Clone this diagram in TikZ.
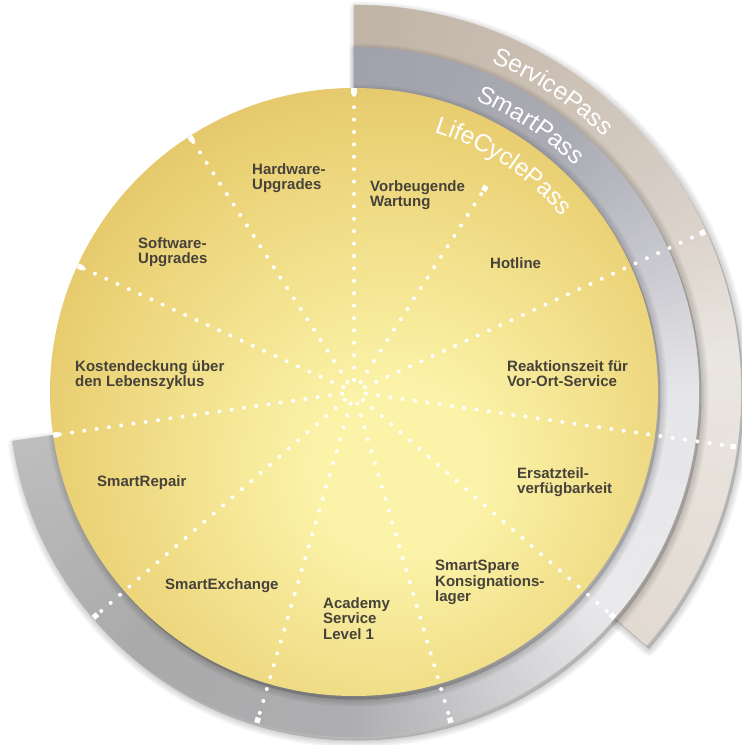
\documentclass[tikz,border=0pt]{standalone}
\usepackage{fontspec}
\setmainfont{Liberation Sans}
\usetikzlibrary{decorations.text}

\definecolor{labelc}{RGB}{70,66,58}
\definecolor{goldA}{RGB}{251,243,168}
\definecolor{goldB}{RGB}{234,208,116}
\definecolor{goldC}{RGB}{196,154,56}
% gray ring stops
\definecolor{gA}{RGB}{160,161,170}
\definecolor{gB}{RGB}{170,171,179}
\definecolor{gC}{RGB}{204,204,210}
\definecolor{gD}{RGB}{230,230,234}
\definecolor{gE}{RGB}{234,234,236}
\definecolor{gF}{RGB}{206,206,208}
\definecolor{gG}{RGB}{174,174,176}
\definecolor{gH}{RGB}{170,170,171}
\definecolor{gI}{RGB}{190,190,190}
% beige ring stops
\definecolor{bA}{RGB}{192,180,167}
\definecolor{bB}{RGB}{203,191,179}
\definecolor{bC}{RGB}{216,207,198}
\definecolor{bD}{RGB}{234,230,225}
\definecolor{bE}{RGB}{226,218,209}

\pgfdeclareradialshading{goldshade}{\pgfpoint{4bp}{-7bp}}{color(0bp)=(goldA); color(7bp)=(goldA); color(27bp)=(goldB); color(52bp)=(goldC); color(90bp)=(goldC)}

% ring segment with colour gradient: start angle, end angle, colour start, colour end, inner r, outer r
\newcommand{\ringgrad}[6]{%
  \pgfmathtruncatemacro{\rgN}{max(2,abs(#2-#1)/1.5)}%
  \foreach \rgi in {1,...,\rgN}{%
    \pgfmathsetmacro{\rgA}{#1+(#2-#1)*(\rgi-1)/\rgN}%
    \pgfmathsetmacro{\rgB}{#1+(#2-#1)*\rgi/\rgN}%
    \pgfmathsetmacro{\rgP}{100*(\rgi-0.5)/\rgN}%
    \filldraw[color=#4!\rgP!#3, line width=0.4pt, line join=round]
      (\rgA:#5) arc[start angle=\rgA, end angle=\rgB, radius=#5]
      -- (\rgB:#6) arc[start angle=\rgB, end angle=\rgA, radius=#6] -- cycle;
  }}

\newcommand{\softshadow}[1]{%
  \foreach \w in {2,5,8,11,14}{%
    \filldraw[black, opacity=0.035, line width=\w pt, line join=round, shift={(2.5,-3.5)}] #1;
  }}

\newcommand{\arcfont}{\color{white}\fontsize{24.5}{28}\selectfont}

\tikzset{
  lab/.style={anchor=north west, inner sep=0pt, align=left, text=labelc,
    font=\bfseries\fontsize{15}{15.5}\selectfont},
  spoke/.style={white, line width=4pt, line cap=round,
    dash pattern=on 0pt off 12.4pt},
  endsq/.style={fill=white, inner sep=0pt, minimum size=5.4pt, draw=none}
}

\begin{document}
\begin{tikzpicture}[x=1pt,y=1pt]
\useasboundingbox (-354,-353) rectangle (388,392);
\fill[white] (-354,-353) rectangle (388,392);

% ServicePass ring (beige)
\softshadow{(0,0) -- (90:387) arc[start angle=90, end angle=-40.91, radius=387] -- cycle}
\ringgrad{90}{60}{bA}{bB}{338}{387}
\ringgrad{60}{30}{bB}{bC}{338}{387}
\ringgrad{30}{5}{bC}{bD}{338}{387}
\ringgrad{5}{-40.91}{bD}{bE}{338}{387}

% SmartPass ring (grey)
\softshadow{(0,0) -- (90:345) arc[start angle=90, end angle=-171.82, radius=345] -- cycle}
\ringgrad{90}{50}{gA}{gB}{298}{345}
\ringgrad{50}{20}{gB}{gC}{298}{345}
\ringgrad{20}{0}{gC}{gD}{298}{345}
\ringgrad{0}{-40}{gD}{gE}{298}{345}
\ringgrad{-40}{-65}{gE}{gF}{298}{345}
\ringgrad{-65}{-90}{gF}{gG}{298}{345}
\ringgrad{-90}{-130}{gG}{gH}{298}{345}
\ringgrad{-130}{-171.82}{gH}{gI}{298}{345}

% shadow of the gold disc on the grey ring
\begin{scope}
  \clip (0,0) -- (90:345) arc[start angle=90, end angle=-171.82, radius=345] -- cycle;
  \softshadow{(0,0) circle[radius=304]}
\end{scope}

% LifeCyclePass disc (gold)
\shade[shading=goldshade] (0,0) circle[radius=304];

% curved ring titles
\path[decorate, decoration={text along path, text align=center,
  text={|\arcfont|ServicePass}}]
  (96.5:357) arc[start angle=96.5, end angle=16.5, radius=357];
\path[decorate, decoration={text along path, text align=center,
  text={|\arcfont|SmartPass}}]
  (96.5:316) arc[start angle=96.5, end angle=16.5, radius=316];
\path[decorate, decoration={text along path, text align=center,
  text={|\arcfont|LifeCyclePass}}]
  (96.5:272) arc[start angle=96.5, end angle=16.5, radius=272];

% dotted spokes
\foreach \ang/\rend [count=\k] in {90/304, 57.27/245, 24.55/386, -8.18/386,
    -40.91/345, -73.64/345, -106.36/345, -139.09/345, -171.82/304,
    155.45/304, 122.73/304}{
  \coordinate (s\k) at (\ang:12);
  \node[endsq, rotate=\ang] (e\k) at (\ang:\rend-2.9) {};
  \draw[spoke] (s\k) -- (e\k.center);
}

% sector labels
\node[lab] (hw) at (-102,229) {Hardware-\\Upgrades};
\node[lab] (vw) at (16,212) {Vorbeugende\\Wartung};
\node[lab] (sw) at (-216,155) {Software-\\Upgrades};
\node[lab] (hl) at (136,135) {Hotline};
\node[lab] (kd) at (-279,32) {Kostendeckung über\\den Lebenszyklus};
\node[lab] (rz) at (153,32) {Reaktionszeit für\\Vor-Ort-Service};
\node[lab] (et) at (163,-75) {Ersatzteil-\\verfügbarkeit};
\node[lab] (sr) at (-257,-83) {SmartRepair};
\node[lab] (se) at (-189,-186) {SmartExchange};
\node[lab] (ac) at (-31,-205) {Academy\\Service\\Level 1};
\node[lab] (ss) at (81,-168) {SmartSpare\\Konsignations-\\lager};
\end{tikzpicture}
\end{document}
